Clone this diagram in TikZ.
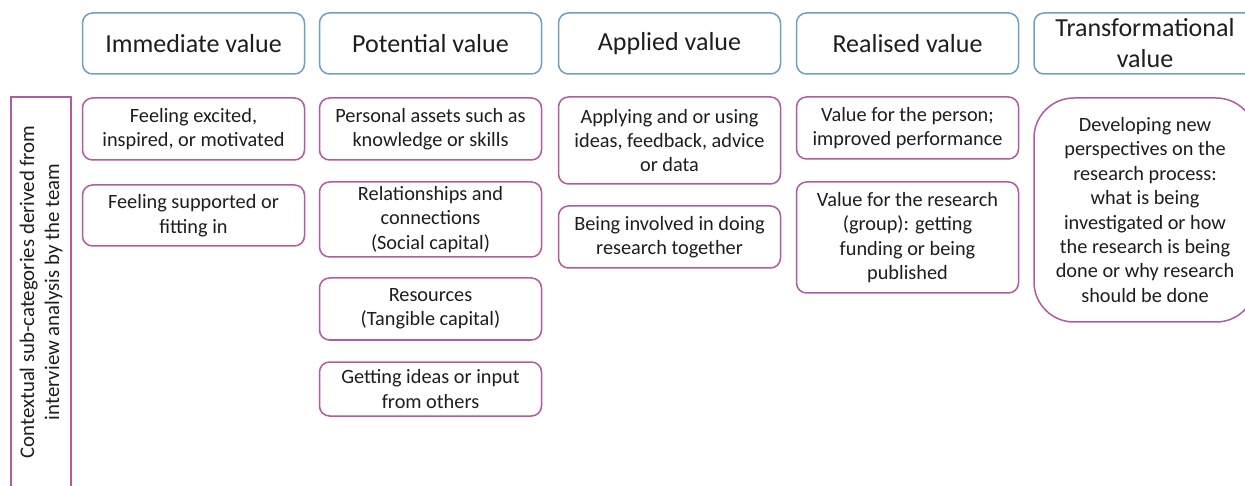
\documentclass[tikz,border=0pt]{standalone}
\usepackage{fontspec}
\setmainfont{Carlito}
\definecolor{hdrblue}{RGB}{110,160,195}
\definecolor{itmpink}{RGB}{180,90,160}
\definecolor{txt}{RGB}{30,30,30}
\tikzset{
  hdr/.style={draw=hdrblue, line width=1.5pt, rounded corners=10pt, minimum width=222pt, minimum height=61pt, inner sep=0pt, align=center, text=txt, font=\fontsize{26}{31}\selectfont},
  itm/.style={draw=itmpink, line width=1.5pt, rounded corners=10pt, minimum width=222pt, inner sep=0pt, align=center, text=txt, font=\fontsize{20.3}{24.4}\selectfont},
}
\begin{document}
\begin{tikzpicture}[x=1pt,y=-1pt]
\useasboundingbox (0,0) rectangle (1245,486);
\clip (0,0) rectangle (1245,486);
\fill[white] (0,0) rectangle (1245,486);
% headers
\node[hdr] (h1) at (193.5,43.5) {Immediate value};
\node[hdr] (h2) at (430.5,43.5) {Potential value};
\node[hdr] (h3) at (669.5,43.5) {Applied value};
\node[hdr] (h4) at (907.5,43.5) {Realised value};
\node[hdr] (h5) at (1145,43.5) {Transformational\\value};
% left label
\draw[draw=itmpink, line width=1.5pt] (11,520) -- (11,97) -- (71,97) -- (71,520);
\node[rotate=90, align=center, text=txt, font=\fontsize{20.8}{25}\selectfont] (lbl) at (41,292) {Contextual sub-categories derived from\\interview analysis by the team};
% column 1
\node[itm, minimum height=62pt] (a1) at (193.5,129) {Feeling excited,\\inspired, or motivated};
\node[itm, minimum height=61pt] (a2) at (193.5,215.5) {Feeling supported or\\fitting in};
% column 2
\node[itm, minimum height=62pt] (b1) at (430.5,129) {Personal assets such as\\knowledge or skills};
\node[itm, minimum height=75pt] (b2) at (430.5,219.5) {Relationships and\\connections\\(Social capital)};
\node[itm, minimum height=62pt] (b3) at (430.5,309) {Resources\\(Tangible capital)};
\node[itm, minimum height=54pt] (b4) at (430.5,389) {Getting ideas or input\\from others};
% column 3
\node[itm, minimum height=87pt] (c1) at (669.5,140.5) {Applying and or using\\ideas, feedback, advice\\or data};
\node[itm, minimum height=62pt] (c2) at (669.5,237) {Being involved in doing\\research together};
% column 4
\node[itm, minimum height=62pt] (d1) at (907.5,128) {Value for the person;\\improved performance};
\node[itm, minimum height=111pt] (d2) at (907.5,237.5) {Value for the research\\(group): getting\\funding or being\\published};
% column 5
\node[itm, rounded corners=40pt, minimum height=224pt] (e1) at (1145,210) {Developing new\\perspectives on the\\research process:\\what is being\\investigated or how\\the research is being\\done or why research\\should be done};
\end{tikzpicture}
\end{document}
